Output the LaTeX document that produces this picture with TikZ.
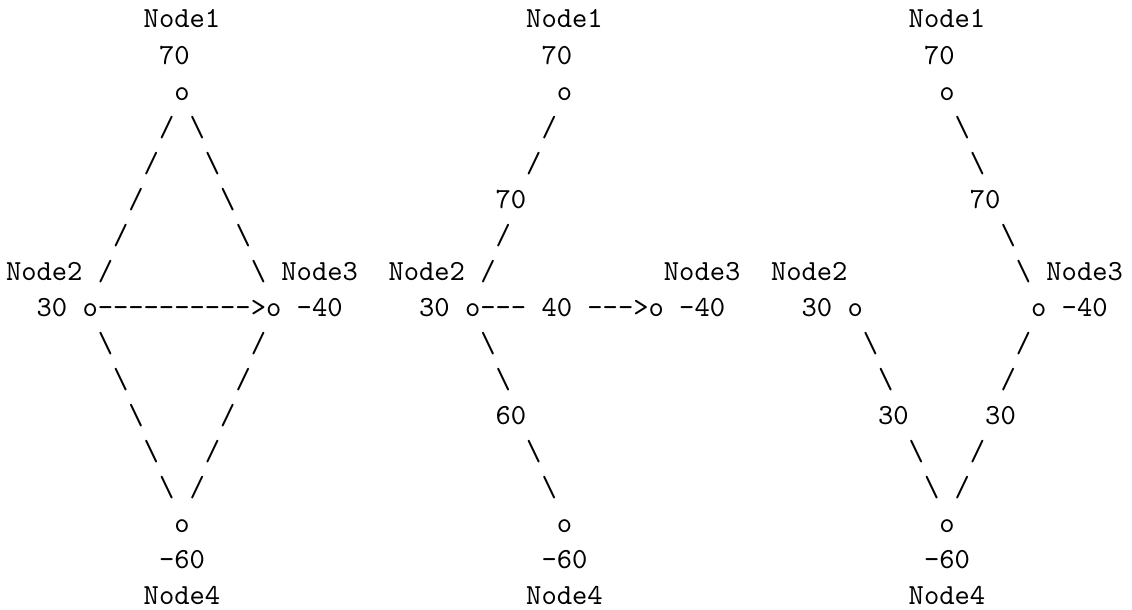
\documentclass[tikz,border=0pt]{standalone}
\font\asciifont="[lmmono10-regular]" at 29.14pt
\tikzset{ascii/.style={anchor=base west, inner sep=0pt, outer sep=0pt, font=\asciifont, text=black}}
\newcommand{\tok}[4]{\node[ascii] (#1) at ({6pt+#2*15.3pt},{-28pt-#3*36pt}) {#4};}
\newcommand{\bs}{\char"5C\relax}
\newcommand{\hy}{-\kern0pt}
\begin{document}
\begin{tikzpicture}
\fill[white] (0,0) rectangle (1132pt,-610pt);
\useasboundingbox (0,0) rectangle (1132pt,-610pt);
% ---------- diagram 1 ----------
\tok{aN1}{9}{0}{Node1}
\tok{aV1}{10}{1}{70}
\tok{aO1}{11}{2}{o}
\tok{aL3}{10}{3}{/}  \tok{aR3}{12}{3}{\bs}
\tok{aL4}{9}{4}{/}   \tok{aR4}{13}{4}{\bs}
\tok{aL5}{8}{5}{/}   \tok{aR5}{14}{5}{\bs}
\tok{aL6}{7}{6}{/}   \tok{aR6}{15}{6}{\bs}
\tok{aN2}{0}{7}{Node2} \tok{aL7}{6}{7}{/} \tok{aR7}{16}{7}{\bs} \tok{aN3}{18}{7}{Node3}
\tok{aV2}{2}{8}{30} \tok{aO2}{5}{8}{o}
\tok{aE}{6}{8}{\hy\hy\hy\hy\hy\hy\hy\hy\hy\hy}
\tok{aH}{16}{8}{>} \tok{aO3}{17}{8}{o} \tok{aV3}{19}{8}{-40}
\tok{aL9}{6}{9}{\bs}   \tok{aR9}{16}{9}{/}
\tok{aL10}{7}{10}{\bs} \tok{aR10}{15}{10}{/}
\tok{aL11}{8}{11}{\bs} \tok{aR11}{14}{11}{/}
\tok{aL12}{9}{12}{\bs} \tok{aR12}{13}{12}{/}
\tok{aL13}{10}{13}{\bs} \tok{aR13}{12}{13}{/}
\tok{aO4}{11}{14}{o}
\tok{aV4}{10}{15}{-60}
\tok{aN4}{9}{16}{Node4}
% ---------- diagram 2 ----------
\tok{bN1}{34}{0}{Node1}
\tok{bV1}{35}{1}{70}
\tok{bO1}{36}{2}{o}
\tok{bL3}{35}{3}{/}
\tok{bL4}{34}{4}{/}
\tok{bW1}{32}{5}{70}
\tok{bL6}{32}{6}{/}
\tok{bN2}{25}{7}{Node2} \tok{bL7}{31}{7}{/} \tok{bN3}{43}{7}{Node3}
\tok{bV2}{27}{8}{30} \tok{bO2}{30}{8}{o}
\tok{bE1}{31}{8}{\hy\hy\hy} \tok{bW2}{35}{8}{40} \tok{bE2}{38}{8}{\hy\hy\hy}
\tok{bH}{41}{8}{>} \tok{bO3}{42}{8}{o} \tok{bV3}{44}{8}{-40}
\tok{bL9}{31}{9}{\bs}
\tok{bL10}{32}{10}{\bs}
\tok{bW3}{32}{11}{60}
\tok{bL12}{34}{12}{\bs}
\tok{bL13}{35}{13}{\bs}
\tok{bO4}{36}{14}{o}
\tok{bV4}{35}{15}{-60}
\tok{bN4}{34}{16}{Node4}
% ---------- diagram 3 ----------
\tok{cN1}{59}{0}{Node1}
\tok{cV1}{60}{1}{70}
\tok{cO1}{61}{2}{o}
\tok{cR3}{62}{3}{\bs}
\tok{cR4}{63}{4}{\bs}
\tok{cW1}{63}{5}{70}
\tok{cR6}{65}{6}{\bs}
\tok{cN2}{50}{7}{Node2} \tok{cR7}{66}{7}{\bs} \tok{cN3}{68}{7}{Node3}
\tok{cV2}{52}{8}{30} \tok{cO2}{55}{8}{o} \tok{cO3}{67}{8}{o} \tok{cV3}{69}{8}{-40}
\tok{cL9}{56}{9}{\bs}   \tok{cR9}{66}{9}{/}
\tok{cL10}{57}{10}{\bs} \tok{cR10}{65}{10}{/}
\tok{cW2}{57}{11}{30}   \tok{cW3}{64}{11}{30}
\tok{cL12}{59}{12}{\bs} \tok{cR12}{63}{12}{/}
\tok{cL13}{60}{13}{\bs} \tok{cR13}{62}{13}{/}
\tok{cO4}{61}{14}{o}
\tok{cV4}{60}{15}{-60}
\tok{cN4}{59}{16}{Node4}
\end{tikzpicture}
\end{document}
